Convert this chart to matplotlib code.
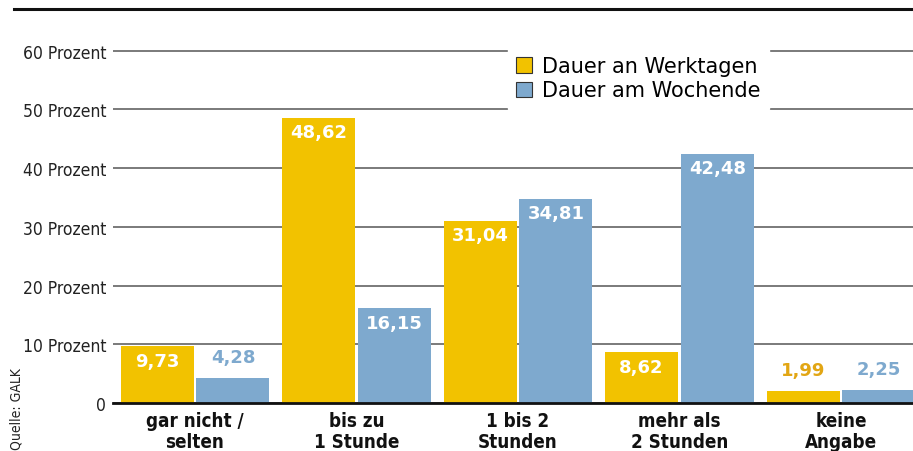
import matplotlib
matplotlib.use("Agg")
import matplotlib.pyplot as plt
from matplotlib.patches import Patch
import numpy as np

categories = ["gar nicht /\nselten", "bis zu\n1 Stunde", "1 bis 2\nStunden", "mehr als\n2 Stunden", "keine\nAngabe"]
werktage = [9.73, 48.62, 31.04, 8.62, 1.99]
wochenende = [4.28, 16.15, 34.81, 42.48, 2.25]
series_names = ["Dauer an Werktagen", "Dauer am Wochende"]
yticks = [0, 10, 20, 30, 40, 50, 60]
ytick_labels = ["0", "10 Prozent", "20 Prozent", "30 Prozent", "40 Prozent", "50 Prozent", "60 Prozent"]
source = "Quelle: GALK"

YELLOW = "#F2C200"
BLUE = "#7EA9CE"
YELLOW_TXT = "#E2A614"

W, H = 913, 452
fig = plt.figure(figsize=(W / 100, H / 100), dpi=100)
ax = fig.add_axes([113 / W, (H - 404) / H, (W - 113) / W, (404 - 40) / H])

x = np.arange(len(categories))
bw = 0.452
off = 0.235
b1 = ax.bar(x - off, werktage, bw, color=YELLOW, zorder=2)
b2 = ax.bar(x + off, wochenende, bw, color=BLUE, zorder=2)

ax.set_xlim(-0.508, 4.446)
ax.set_ylim(0, 62.0)

for bars, vals, col in ((b1, werktage, YELLOW_TXT), (b2, wochenende, BLUE)):
    for b, v in zip(bars, vals):
        s = f"{v:.2f}".replace(".", ",")
        cx = b.get_x() + b.get_width() / 2
        if v > 5:
            ax.text(cx, v - 2.5, s, ha="center", va="center", color="white",
                    fontsize=13, fontweight="bold", zorder=3)
        else:
            ax.text(cx, v + 3.6, s, ha="center", va="center", color=col,
                    fontsize=13, fontweight="bold", zorder=3)

ax.set_yticks(yticks)
ax.set_yticklabels(ytick_labels, family="DejaVu Sans", stretch="condensed", fontsize=12.5, color="#222222")
ax.yaxis.grid(True, color="#7a7a7a", linewidth=1.4, zorder=0)
ax.set_axisbelow(True)
ax.tick_params(axis="y", length=0, pad=5)
ax.set_xticks(x)
ax.set_xticklabels(categories, family="DejaVu Sans", stretch="condensed", fontweight="bold", fontsize=13.5,
                   linespacing=1.1, color="#111111")
ax.tick_params(axis="x", length=0, pad=6)
for s in ("top", "right", "left"):
    ax.spines[s].set_visible(False)
ax.spines["bottom"].set_color("#111111")
ax.spines["bottom"].set_linewidth(2.0)

handles = [Patch(facecolor=YELLOW, edgecolor="#333333", linewidth=0.8),
           Patch(facecolor=BLUE, edgecolor="#333333", linewidth=0.8)]
leg = ax.legend(handles, series_names, loc="upper left",
                bbox_to_anchor=((508 - 113) / (W - 113), 1 - (49 - 40) / (404 - 40)),
                frameon=True, fancybox=False, framealpha=1, edgecolor="white",
                fontsize=15, handlelength=0.75, handleheight=0.75, handletextpad=0.5,
                labelspacing=0.2, borderpad=0.4, borderaxespad=0)
leg.set_zorder(5)

fig.add_artist(plt.Line2D([14 / W, 1], [1 - 9.5 / H, 1 - 9.5 / H], color="#111111", linewidth=2.2))

fig.text(17 / W, 2 / H, source, rotation=90, rotation_mode="anchor", ha="left", va="center",
         fontsize=10, color="#222222", family="DejaVu Sans", stretch="condensed")

fig.savefig("out.png", dpi=100)
